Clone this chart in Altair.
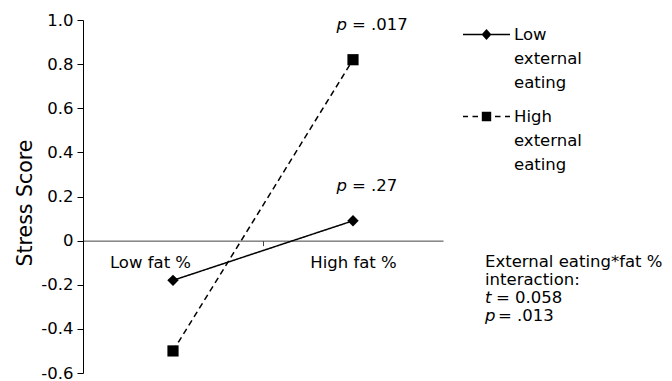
import altair as alt
import pandas as pd

# ---- data ----
fat_levels = ["Low fat %", "High fat %"]
series_names = ["Low external eating", "High external eating"]
low_external = [-0.18, 0.09]
high_external = [-0.50, 0.82]
p_texts = ["= .27", "= .017"]
y_ticks = [-0.6, -0.4, -0.2, 0, 0.2, 0.4, 0.6, 0.8, 1.0]
note_lines = ["External eating*fat %", "interaction:"]
note_symbols = ["t", "p"]
note_values = ["= 0.058", "= .013"]

rows = []
for i, fat in enumerate(fat_levels):
    rows.append({"fat": fat, "series": series_names[0], "score": low_external[i]})
    rows.append({"fat": fat, "series": series_names[1], "score": high_external[i]})
df = pd.DataFrame(rows)

p_df = pd.DataFrame({
    "fat": [fat_levels[1], fat_levels[1]],
    "series": series_names,
    "score": [low_external[1], high_external[1]],
    "ptext": p_texts,
})

# ---- layout ----
W, H = 360, 353
YMIN, YMAX = -0.6, 1.0
FS = 16.5
FONT = "DejaVu Sans"
zero_offset = -H * (0 - YMIN) / (YMAX - YMIN)
step = W / 2.0

x_enc = alt.X(
    "fat:N",
    sort=fat_levels,
    scale=alt.Scale(type="point", padding=0.5, domain=fat_levels),
    axis=alt.Axis(
        title=None, offset=zero_offset, grid=False,
        domainColor="#444", tickColor="#444", tickSize=5,
        tickOffset=-step / 2,
        labelOffset={"condition": {"test": f"datum.value === '{fat_levels[0]}'",
                                   "value": step / 2 - 23},
                     "value": step / 2},
        labelPadding=9, labelAngle=0, labelFontSize=FS, labelColor="black",
    ),
)
y_enc = alt.Y(
    "score:Q",
    scale=alt.Scale(domain=[YMIN, YMAX], nice=False, zero=False),
    axis=alt.Axis(
        title="Stress Score", values=y_ticks, grid=False,
        tickSize=6, labelPadding=4, domainColor="black", tickColor="black",
        labelExpr="abs(datum.value) < 1e-9 ? '0' : (datum.value < 0 ? '-' : '') + format(abs(datum.value), '.1f')",
        labelFontSize=FS, labelColor="black",
        titleFontSize=20.5, titleFontWeight="normal", titleColor="black", titlePadding=5,
        titleY=H / 2 + 6,
    ),
)


# legend glyphs (filled outlines): a thin line, solid or dashed, with the marker in the middle
def bar(x0, x1, h=0.034):
    return f"M{x0},{-h}L{x1},{-h}L{x1},{h}L{x0},{h}Z"


diamond_glyph = bar(-1, 1) + "M0,-0.23L0.21,0L0,0.23L-0.21,0Z"
square_glyph = (bar(-1, -0.787) + bar(-0.596, -0.362) + bar(-0.2, 0.2)
                + bar(0.362, 0.596) + bar(0.787, 1)
                + "M-0.2,-0.2L0.2,-0.2L0.2,0.2L-0.2,0.2Z")
GLYPH = 2209

dash_scale = alt.Scale(domain=series_names, range=[[1, 0], [6, 4]])

legend = alt.Legend(
    title=None, orient="none", legendX=380, legendY=-9, padding=0,
    labelExpr="split(datum.label, ' ')", labelBaseline="middle",
    labelFontSize=FS, labelColor="black", labelOffset=4, rowPadding=2,
    symbolSize=GLYPH, symbolFillColor="black", symbolStrokeWidth=0, symbolOpacity=1,
)

lines = alt.Chart(df).mark_line(color="black", strokeWidth=1.5).encode(
    x=x_enc, y=y_enc,
    strokeDash=alt.StrokeDash("series:N", scale=dash_scale, legend=None),
)
pts_low = alt.Chart(df).transform_filter(alt.datum.series == series_names[0]).mark_point(
    shape="diamond", filled=True, color="black", opacity=1, size=130).encode(x=x_enc, y=y_enc)
pts_high = alt.Chart(df).transform_filter(alt.datum.series == series_names[1]).mark_point(
    shape="square", filled=True, color="black", opacity=1, size=125).encode(x=x_enc, y=y_enc)

# zero-size marks: only there to give the legend its line-and-marker glyphs
legend_layer = alt.Chart(df).mark_point(
    filled=True, color="black", opacity=1, size=0
).encode(
    x=x_enc, y=y_enc,
    shape=alt.Shape("series:N", scale=alt.Scale(domain=series_names, range=[diamond_glyph, square_glyph]), legend=legend),
)

p_base = alt.Chart(p_df).encode(x=x_enc, y=y_enc)
p_sym = p_base.mark_text(text="p", fontStyle="italic", align="right", baseline="middle",
                         dx=-6, dy=-35, fontSize=FS, color="black")
p_val = p_base.mark_text(align="left", baseline="middle", dx=-1, dy=-35,
                         fontSize=FS, color="black").encode(text="ptext:N")

one = pd.DataFrame({"k": [0]})
note_head = alt.Chart(one).mark_text(text=note_lines, align="left", baseline="middle",
                                     lineHeight=18, fontSize=FS, color="black").encode(
    x=alt.value(402), y=alt.value(242))
layers = [legend_layer, lines, pts_low, pts_high, p_sym, p_val, note_head]
for i, (s, v) in enumerate(zip(note_symbols, note_values)):
    yy = 278 + 18 * i
    layers.append(alt.Chart(one).mark_text(text=s, fontStyle="italic", align="left", baseline="middle",
                                           fontSize=FS, color="black").encode(x=alt.value(402), y=alt.value(yy)))
    layers.append(alt.Chart(one).mark_text(text=v, align="left", baseline="middle",
                                           fontSize=FS, color="black").encode(x=alt.value(413 + 2 * i), y=alt.value(yy)))

chart = alt.layer(*layers).properties(
    width=W, height=H,
    autosize=alt.AutoSizeParams(type="none"),
    padding={"left": 75, "top": 12, "right": 221, "bottom": 10},
).configure(
    font=FONT,
    style={"guide-label": {"lineHeight": 24}},
).configure_view(stroke=None)

chart.save("out.html", embed_options={"renderer": "svg", "actions": False})
